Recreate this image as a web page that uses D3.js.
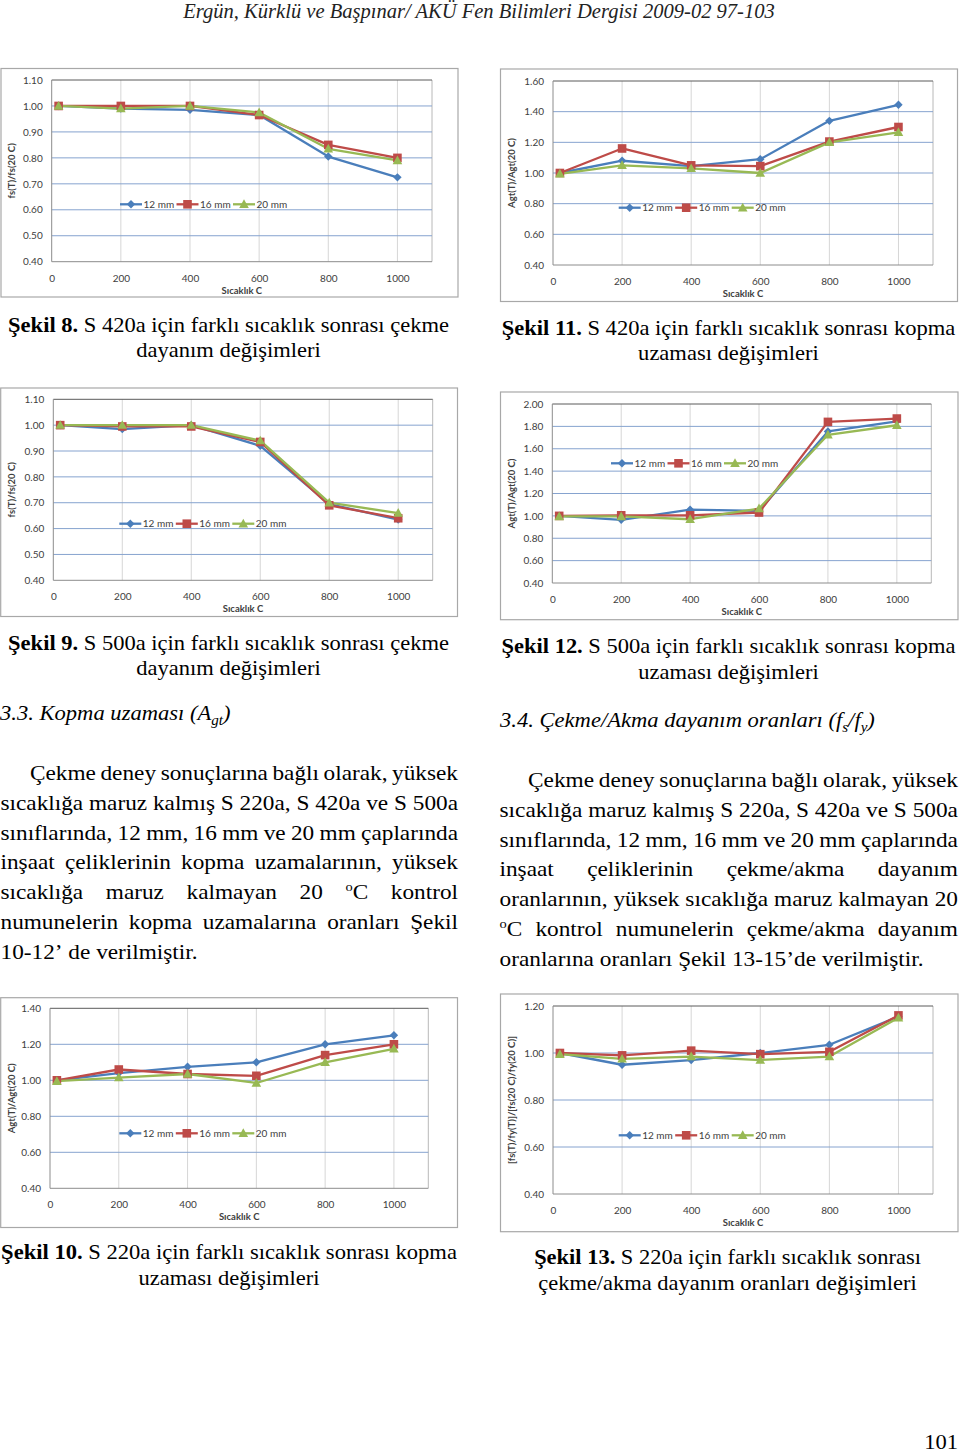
<!DOCTYPE html>
<html><head><meta charset="utf-8">
<script src="https://cdn.jsdelivr.net/npm/d3@7"></script>
<style>body{margin:0;background:#fff} svg{display:block}</style>
</head><body><svg id="page" width="960" height="1456"></svg>
<script>
// ---------- data ----------
const temps = [20, 200, 400, 600, 800, 1000];
const xTickValues = [0, 200, 400, 600, 800, 1000];
const seriesNames = ["12 mm", "16 mm", "20 mm"];
const seriesColors = ["#4a7ebb", "#be4b48", "#98b954"];

// Şekil 8 – S 420a çekme
const s420Cekme12 = [1.00, 0.99, 0.985, 0.965, 0.805, 0.725];
const s420Cekme16 = [1.00, 1.00, 1.00, 0.965, 0.85, 0.80];
const s420Cekme20 = [1.00, 0.99, 1.00, 0.975, 0.835, 0.79];
// Şekil 11 – S 420a kopma uzaması
const s420Kopma12 = [1.00, 1.08, 1.045, 1.09, 1.34, 1.445];
const s420Kopma16 = [1.00, 1.16, 1.05, 1.045, 1.205, 1.30];
const s420Kopma20 = [0.995, 1.05, 1.03, 1.00, 1.20, 1.265];
// Şekil 9 – S 500a çekme
const s500Cekme12 = [1.00, 0.985, 1.00, 0.92, 0.695, 0.635];
const s500Cekme16 = [1.00, 0.995, 0.995, 0.935, 0.69, 0.64];
const s500Cekme20 = [1.00, 1.00, 1.00, 0.94, 0.70, 0.66];
// Şekil 12 – S 500a kopma uzaması
const s500Kopma12 = [1.00, 0.965, 1.055, 1.045, 1.755, 1.845];
const s500Kopma16 = [1.00, 1.005, 1.005, 1.03, 1.84, 1.87];
const s500Kopma20 = [0.995, 0.995, 0.97, 1.065, 1.725, 1.81];
// Şekil 10 – S 220a kopma uzaması
const s220Kopma12 = [1.00, 1.04, 1.075, 1.10, 1.20, 1.25];
const s220Kopma16 = [1.00, 1.06, 1.035, 1.025, 1.14, 1.20];
const s220Kopma20 = [0.995, 1.015, 1.035, 0.985, 1.10, 1.175];
// Şekil 13 – S 220a çekme/akma oranı
const s220Oran12 = [1.00, 0.95, 0.97, 1.00, 1.035, 1.155];
const s220Oran16 = [1.00, 0.99, 1.01, 0.995, 1.005, 1.16];
const s220Oran20 = [0.995, 0.975, 0.985, 0.97, 0.985, 1.15];

const yTitleCekme = "fs(T)/fs(20 C)";
const yTitleKopma = "Agt(T)/Agt(20 C)";
const yTitleOran = "[fs(T)/fy(T)]/[fs(20 C)/fy(20 C)]";
const xTitle = "Sıcaklık C";

// ---------- layout ----------
const charts = [
  {frame:[1,68.5,458,297], plot:[51.7,80,432,261.7], y:[0.4,1.1], step:0.1, title:yTitleCekme, legend:[120,204.3], data:[s420Cekme12,s420Cekme16,s420Cekme20]},
  {frame:[500.5,69,957.5,301.5], plot:[553,81,933,265], y:[0.4,1.6], step:0.2, title:yTitleKopma, legend:[618.7,207.7], data:[s420Kopma12,s420Kopma16,s420Kopma20]},
  {frame:[0.7,388,457.5,616.5], plot:[53.3,399.3,432.7,580.3], y:[0.4,1.1], step:0.1, title:yTitleCekme, legend:[119.3,523.7], data:[s500Cekme12,s500Cekme16,s500Cekme20]},
  {frame:[500.5,392,958,619.7], plot:[552.3,404,931.3,583], y:[0.4,2.0], step:0.2, title:yTitleKopma, legend:[611,463.3], data:[s500Kopma12,s500Kopma16,s500Kopma20]},
  {frame:[0.7,997.7,457.5,1227.5], plot:[50,1008.3,428.3,1188.3], y:[0.4,1.4], step:0.2, title:yTitleKopma, legend:[119.3,1133.3], data:[s220Kopma12,s220Kopma16,s220Kopma20]},
  {frame:[500.5,994,958,1231.7], plot:[553,1006,933,1194], y:[0.4,1.2], step:0.2, title:yTitleOran, legend:[618.7,1135.3], data:[s220Oran12,s220Oran16,s220Oran20]}
];

const svg = d3.select("#page");
const CF = "Lato, 'Liberation Sans', sans-serif";
const SERIF = "'Liberation Serif', 'Times New Roman', serif";
const HSCALE = 1.075;

const markerPaths = [
  "M0,-4.2L4.2,0L0,4.2L-4.2,0Z",
  "M-4.3,-4.3L4.3,-4.3L4.3,4.3L-4.3,4.3Z",
  "M0,-5L4.8,3.7L-4.8,3.7Z"
];

function drawChart(c) {
  const g = svg.append("g");
  const [fx0, fy0, fx1, fy1] = c.frame;
  g.append("rect").attr("x", fx0).attr("y", fy0).attr("width", fx1 - fx0).attr("height", fy1 - fy0)
    .attr("fill", "#fff").attr("stroke", "#a8a8a8").attr("stroke-width", 1.2);
  const [px0, py0, px1, py1] = c.plot;
  const x = d3.scaleLinear().domain([0, 1100]).range([px0, px1]);
  const y = d3.scaleLinear().domain(c.y).range([py1, py0]);
  const n = Math.round((c.y[1] - c.y[0]) / c.step);
  const yt = d3.range(n + 1).map(i => +(c.y[0] + i * c.step).toFixed(2));

  g.selectAll(".vg").data(xTickValues.slice(1)).join("line")
    .attr("x1", d => x(d)).attr("x2", d => x(d)).attr("y1", py0).attr("y2", py1)
    .attr("stroke", "#d6d6d6").attr("stroke-width", 1);
  g.append("line").attr("x1", x(1100)).attr("x2", x(1100)).attr("y1", py0).attr("y2", py1)
    .attr("stroke", "#b8b8b8");
  g.selectAll(".hg").data(yt.slice(1)).join("line")
    .attr("x1", px0).attr("x2", px1).attr("y1", d => y(d)).attr("y2", d => y(d))
    .attr("stroke", (d, i) => i === yt.length - 2 ? "#5a5a5a" : "#86a3cf").attr("stroke-width", 1);
  g.append("line").attr("x1", px0).attr("x2", px0).attr("y1", py0).attr("y2", py1).attr("stroke", "#8c8c8c");
  g.append("line").attr("x1", px0).attr("x2", px1).attr("y1", py1).attr("y2", py1).attr("stroke", "#8c8c8c");

  const ya = d3.axisLeft(y).tickValues(yt).tickFormat(d3.format(".2f")).tickSize(0).tickPadding(9);
  g.append("g").attr("transform", `translate(${px0},0)`).call(ya)
    .call(s => s.select(".domain").remove())
    .selectAll("text").attr("font-family", CF).attr("font-size", 10).attr("fill", "#404040");
  const xa = d3.axisBottom(x).tickValues(xTickValues).tickFormat(d3.format("d")).tickSize(0).tickPadding(13);
  g.append("g").attr("transform", `translate(0,${py1})`).call(xa)
    .call(s => s.select(".domain").remove())
    .selectAll("text").attr("font-family", CF).attr("font-size", 10).attr("fill", "#404040");

  g.append("text").attr("transform", `translate(${fx0 + 11},${(py0 + py1) / 2}) rotate(-90)`)
    .attr("text-anchor", "middle").attr("dy", "0.35em")
    .attr("font-family", CF).attr("font-size", 9.5).attr("font-weight", "bold").attr("fill", "#404040")
    .text(c.title);
  g.append("text").attr("x", (px0 + px1) / 2).attr("y", py1 + 32).attr("text-anchor", "middle")
    .attr("font-family", CF).attr("font-size", 9.5).attr("font-weight", "bold").attr("fill", "#404040")
    .text(xTitle);

  const line = d3.line().x((d, i) => x(temps[i])).y(d => y(d));
  c.data.forEach((vals, k) => {
    g.append("path").attr("d", line(vals)).attr("fill", "none")
      .attr("stroke", seriesColors[k]).attr("stroke-width", 2.3).attr("stroke-linejoin", "round");
  });
  c.data.forEach((vals, k) => {
    g.selectAll(null).data(vals).join("path")
      .attr("transform", (d, i) => `translate(${x(temps[i])},${y(d)})`)
      .attr("d", markerPaths[k]).attr("fill", seriesColors[k]);
  });

  const [lx, ly] = c.legend;
  seriesNames.forEach((name, k) => {
    const ox = lx + k * 56.5;
    g.append("line").attr("x1", ox).attr("x2", ox + 22).attr("y1", ly).attr("y2", ly)
      .attr("stroke", seriesColors[k]).attr("stroke-width", 2.3);
    g.append("path").attr("transform", `translate(${ox + 11},${ly})`).attr("d", markerPaths[k]).attr("fill", seriesColors[k]);
    g.append("text").attr("x", ox + 23.5).attr("y", ly + 3.6)
      .attr("font-family", CF).attr("font-size", 10).attr("fill", "#404040").text(name);
  });
}
charts.forEach(drawChart);

// ---------- page text ----------
const header = svg.append("text").attr("text-anchor", "middle")
  .attr("font-family", SERIF).attr("font-style", "italic").attr("font-size", 21).attr("fill", "#222")
  .text("Ergün, Kürklü ve Başpınar/ AKÜ Fen Bilimleri Dergisi 2009-02 97-103");
{
  const w = header.node().getComputedTextLength();
  header.attr("transform", `translate(479,18) scale(${592 / w},1)`);
}

const captions = [
  {bold:"Şekil 8.", rest:" S 420a için farklı sıcaklık sonrası çekme", line2:"dayanım değişimleri", cx:228.5, w:441, y1:332, y2:357},
  {bold:"Şekil 11.", rest:" S 420a için farklı sıcaklık sonrası kopma", line2:"uzaması değişimleri", cx:728.5, w:454, y1:335, y2:360},
  {bold:"Şekil 9.", rest:" S 500a için farklı sıcaklık sonrası çekme", line2:"dayanım değişimleri", cx:228.5, w:441, y1:650, y2:675},
  {bold:"Şekil 12.", rest:" S 500a için farklı sıcaklık sonrası kopma", line2:"uzaması değişimleri", cx:728.5, w:454, y1:653, y2:679},
  {bold:"Şekil 10.", rest:" S 220a için farklı sıcaklık sonrası kopma", line2:"uzaması değişimleri", cx:229, w:456, y1:1259, y2:1285},
  {bold:"Şekil 13.", rest:" S 220a için farklı sıcaklık sonrası", line2:"çekme/akma dayanım oranları değişimleri", cx:727.5, w:387, y1:1264, y2:1290}
];
captions.forEach(c => {
  const t1 = svg.append("text").attr("text-anchor", "middle").attr("font-family", SERIF).attr("font-size", 21).attr("fill", "#000");
  t1.append("tspan").attr("font-weight", "bold").text(c.bold);
  t1.append("tspan").text(c.rest);
  const f = c.w / t1.node().getComputedTextLength();
  t1.attr("transform", `translate(${c.cx},${c.y1}) scale(${f},1)`);
  svg.append("text").attr("text-anchor", "middle").attr("font-family", SERIF).attr("font-size", 21).attr("fill", "#000")
    .attr("transform", `translate(${c.cx},${c.y2}) scale(${f},1)`).text(c.line2);
});

// section headings
{
  const h1 = svg.append("text").attr("transform", `translate(0,720) scale(${HSCALE},1)`)
    .attr("font-family", SERIF).attr("font-style", "italic").attr("font-size", 21);
  h1.append("tspan").text("3.3. Kopma uzaması (A");
  h1.append("tspan").attr("font-size", 14).attr("dy", 5).text("gt");
  h1.append("tspan").attr("dy", -5).text(")");
  const h2 = svg.append("text").attr("transform", `translate(500,727) scale(${HSCALE},1)`)
    .attr("font-family", SERIF).attr("font-style", "italic").attr("font-size", 21);
  h2.append("tspan").text("3.4. Çekme/Akma dayanım oranları (f");
  h2.append("tspan").attr("font-size", 14).attr("dy", 5).text("s");
  h2.append("tspan").attr("dy", -5).text("/f");
  h2.append("tspan").attr("font-size", 14).attr("dy", 5).text("y");
  h2.append("tspan").attr("dy", -5).text(")");
}

const leftPara = [
  "Çekme deney sonuçlarına bağlı olarak, yüksek",
  "sıcaklığa maruz kalmış S 220a, S 420a ve S 500a",
  "sınıflarında, 12 mm, 16 mm ve 20 mm çaplarında",
  "inşaat çeliklerinin kopma uzamalarının, yüksek",
  "sıcaklığa maruz kalmayan 20 ^oC kontrol",
  "numunelerin kopma uzamalarına oranları Şekil",
  "10-12’ de verilmiştir."
];
const rightPara = [
  "Çekme deney sonuçlarına bağlı olarak, yüksek",
  "sıcaklığa maruz kalmış S 220a, S 420a ve S 500a",
  "sınıflarında, 12 mm, 16 mm ve 20 mm çaplarında",
  "inşaat çeliklerinin çekme/akma dayanım",
  "oranlarının, yüksek sıcaklığa maruz kalmayan 20",
  "^oC kontrol numunelerin çekme/akma dayanım",
  "oranlarına oranları Şekil 13-15’de verilmiştir."
];

function paragraph(lines, x0, x1, y0, lh, indent) {
  const space = 5.25;
  const built = lines.map((line, i) => {
    const words = line.split(" ");
    const nodes = words.map(w => {
      const t = svg.append("text").attr("font-family", SERIF).attr("font-size", 21).attr("fill", "#000");
      if (w.startsWith("^o")) {
        t.append("tspan").attr("font-size", 13).attr("dy", -8).text("o");
        t.append("tspan").attr("dy", 8).text(w.slice(2));
      } else t.text(w);
      return t;
    });
    const widths = nodes.map(nd => nd.node().getComputedTextLength());
    return {nodes, widths};
  });
  // horizontal scale from the tightest line (index 1) set with normal spaces
  const ref = built[1];
  const natural = d3.sum(ref.widths) + space * (ref.widths.length - 1);
  const f = (x1 - x0) / natural;
  built.forEach((b, i) => {
    const y = y0 + i * lh;
    const start = x0 + (i === 0 ? indent : 0);
    const total = d3.sum(b.widths) * f;
    const last = i === lines.length - 1;
    const gap = last ? space * f : (x1 - start - total) / (b.widths.length - 1);
    let x = start;
    b.nodes.forEach((nd, j) => {
      nd.attr("transform", `translate(${x},${y}) scale(${f},1)`);
      x += b.widths[j] * f + gap;
    });
  });
}
paragraph(leftPara, 0.5, 458, 780, 29.8, 29.5);
paragraph(rightPara, 499.5, 958, 787, 29.8, 28.5);

svg.append("text").attr("transform", `translate(958,1449) scale(${HSCALE},1)`).attr("text-anchor", "end")
  .attr("font-family", SERIF).attr("font-size", 21).text("101");
</script></body></html>
